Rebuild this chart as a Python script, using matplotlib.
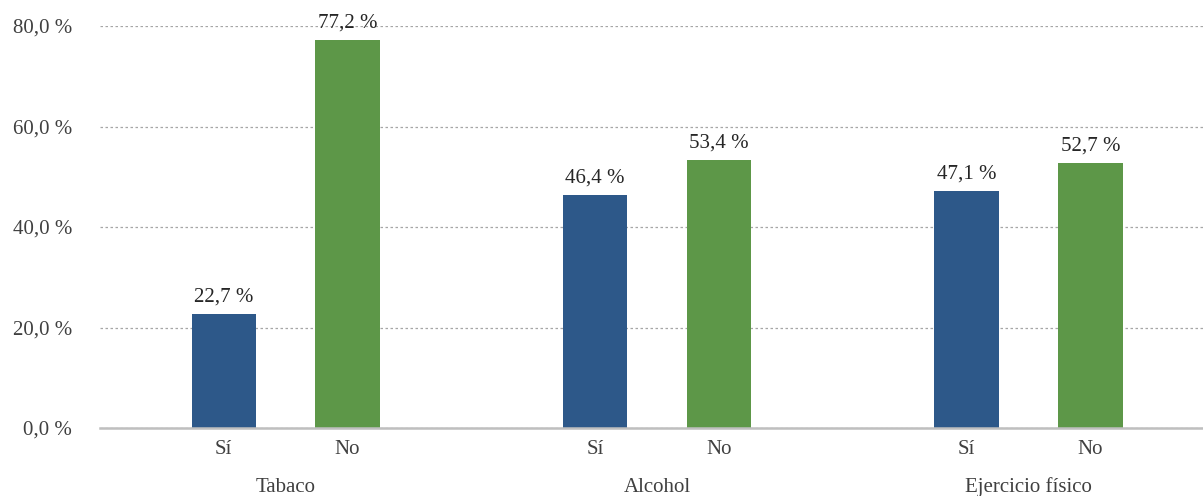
import matplotlib.pyplot as plt
from matplotlib.transforms import blended_transform_factory

# Data
groups = ["Tabaco", "Alcohol", "Ejercicio físico"]
answers = ["Sí", "No"]
si_values = [22.7, 46.4, 47.1]
no_values = [77.2, 53.4, 52.7]
y_ticks = [0, 20, 40, 60, 80]

plt.rcParams["font.family"] = ["Liberation Serif", "DejaVu Serif"]

BLUE = "#2D5889"
GREEN = "#5D9748"
FS = 15

fig = plt.figure(figsize=(12.03, 4.96), dpi=100)
ax = fig.add_axes([100 / 1203, 68 / 496, 1103 / 1203, 402 / 496])

# each group takes two slots plus an empty one
si_pos = [3 * i for i in range(len(groups))]
no_pos = [3 * i + 1 for i in range(len(groups))]
width = 0.52

bars_si = ax.bar(si_pos, si_values, width=width, color=BLUE, zorder=3)
bars_no = ax.bar(no_pos, no_values, width=width, color=GREEN, zorder=3)

for bars, vals in [(bars_si, si_values), (bars_no, no_values)]:
    for b, v in zip(bars, vals):
        ax.text(b.get_x() + b.get_width() / 2, v + 1.5,
                f"{v:.1f} %".replace(".", ","), ha="center", va="bottom",
                fontsize=FS, color="#262626", clip_on=False, zorder=4)

ax.set_xlim(-1.0, 7.91)
ax.set_ylim(0, 80)
ax.set_yticks(y_ticks)
ax.set_yticklabels([f"{t:.1f} %".replace(".", ",") for t in y_ticks],
                   fontsize=FS, color="#404040")

ax.set_xticks(sorted(si_pos + no_pos))
ax.set_xticklabels(answers * len(groups), fontsize=FS, color="#404040")
ax.tick_params(axis="both", length=0)
ax.tick_params(axis="x", pad=9)
ax.tick_params(axis="y", pad=20)

trans = blended_transform_factory(ax.transData, ax.transAxes)
for i, g in enumerate(groups):
    ax.text(3 * i + 0.5, -0.147, g, transform=trans, ha="center", va="center",
            fontsize=FS, color="#404040")

ax.yaxis.grid(True, linestyle=(0, (2, 2)), color="#A6A6A6", linewidth=0.9, zorder=0)
ax.set_axisbelow(True)
for side in ["top", "right", "left"]:
    ax.spines[side].set_visible(False)
ax.spines["bottom"].set_color("#BFBFBF")
ax.spines["bottom"].set_linewidth(1.8)
ax.spines["bottom"].set_zorder(5)

fig.savefig("out.png", dpi=100)
